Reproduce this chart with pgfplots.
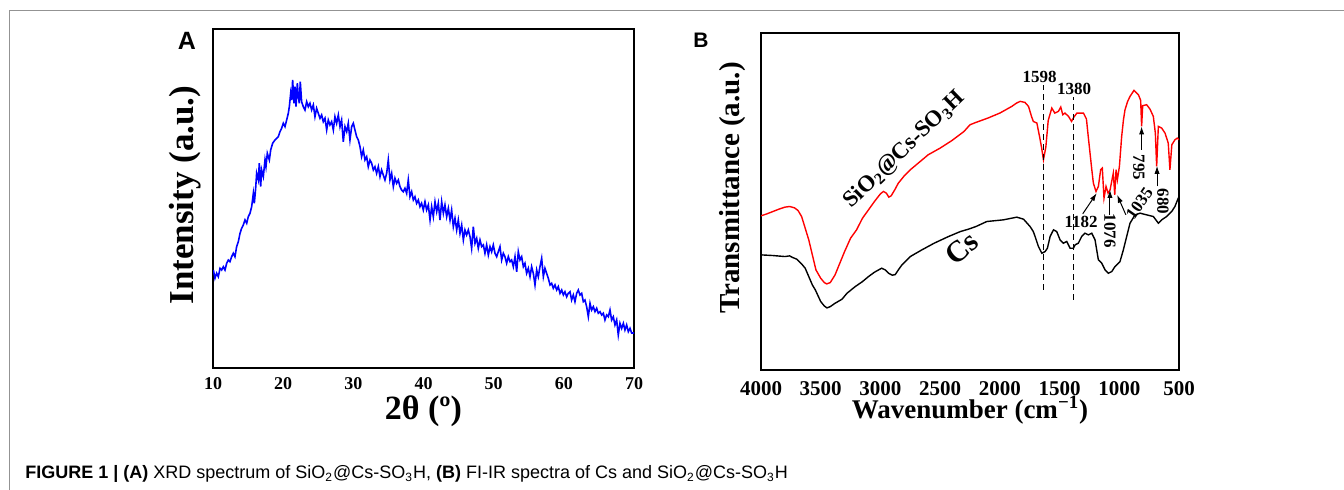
\documentclass[border=0pt]{standalone}
\usepackage{fontspec}
\setmainfont{Liberation Serif}
\newfontfamily\capfont{Liberation Sans}
\usepackage{pgfplots}
\pgfplotsset{compat=1.18}
\usetikzlibrary{arrows.meta}

\pgfplotsset{
  panel/.style={
    scale only axis, anchor=south west,
    axis line style={line width=1.1pt},
    ytick=\empty,
    major tick length=0pt,
    /pgf/number format/assume math mode=true,
    /pgf/number format/set thousands separator={},
  },
}
\newcommand{\ann}{\fontsize{8.5}{8.5}\selectfont\bfseries}

\begin{document}
\begin{tikzpicture}
\useasboundingbox (0,0) rectangle (672pt,245pt);
\draw[gray!85, line width=0.7pt] (4.75pt,0) -- (4.75pt,239.75pt) -- (672pt,239.75pt);

% (A) XRD
\begin{axis}[panel, at={(106.5pt,61pt)}, width=210.5pt, height=169.5pt,
  xmin=10, xmax=70, ymin=0, ymax=339, xtick={10,20,...,70},
  xticklabel style={font=\fontsize{9}{9}\selectfont\bfseries, anchor=center, yshift=-8pt},
  xlabel={2θ (º)},
  xlabel style={font=\fontsize{17}{17}\selectfont\bfseries, at={(axis description cs:0.5,-0.128)}, anchor=center},
  ylabel={Intensity (a.u.)},
  ylabel style={font=\fontsize{17.5}{17.5}\selectfont\bfseries, at={(axis description cs:-0.0665,0.51)}, anchor=center},
]
\addplot[blue, line width=0.8pt] coordinates {
(10.05,98) (10.28,89.7) (10.52,94.7) (10.76,91.3) (11.00,99.7) (11.23,98) (11.47,101.3) (11.71,98) (11.95,104.7) (12.18,108)
(12.42,106.3) (12.66,111.3) (12.90,114.7) (13.13,111.3) (13.37,121.3) (13.61,126.3) (13.85,134.7) (14.08,139.7) (14.32,143) (14.56,148)
(14.80,144.7) (15.03,151.3) (15.27,154.7) (15.51,161.3) (15.75,174.7) (15.89,164.7) (16.08,179.7) (16.22,194.7) (16.46,188) (16.60,204.7)
(16.79,181.3) (16.93,198) (17.17,191.3) (17.41,208) (17.55,201.3) (17.74,214.7) (18.03,208) (18.22,218) (18.50,224.7) (18.83,228)
(19.31,231.3) (19.55,236.3) (19.78,239.7) (20.02,244.7) (20.26,241.3) (20.50,248) (20.73,254.7) (20.88,261.3) (21.07,274.7) (21.21,268)
(21.35,288) (21.54,264.7) (21.68,281.3) (21.83,261.3) (22.02,284.7) (22.16,271.3) (22.30,264.7) (22.44,286.3) (22.63,266.3) (22.87,261.3)
(23.11,258) (23.35,266.3) (23.58,261.3) (23.82,264.7) (24.06,258) (24.30,263) (24.53,251.3) (24.77,259.7) (25.01,254.7) (25.25,249.7)
(25.48,253) (25.72,246.3) (25.96,249.7) (26.20,238) (26.43,248) (26.67,243) (26.91,246.3) (27.15,238) (27.38,251.3) (27.62,244.7)
(27.86,253) (28.10,241.3) (28.33,248) (28.57,226.3) (28.81,241.3) (29.05,236.3) (29.28,244.7) (29.52,228) (29.76,241.3) (30.00,244.7)
(30.23,238) (30.47,231.3) (30.71,228) (30.95,221.3) (31.18,211.3) (31.42,218) (31.66,208) (31.90,211.3) (32.13,201.3) (32.37,208)
(32.61,204.7) (32.85,198) (33.08,201.3) (33.32,194.7) (33.56,201.3) (33.80,191.3) (34.03,198) (34.27,193) (34.51,188) (34.75,194.7)
(34.98,208) (35.22,188) (35.46,194.7) (35.70,181.3) (35.93,189.7) (36.17,184.7) (36.41,188) (36.65,181.3) (36.88,178) (37.12,176.3)
(37.36,179.7) (37.60,174.7) (37.83,188) (38.07,171.3) (38.31,176.3) (38.55,168) (38.78,171.3) (39.02,164.7) (39.26,168) (39.50,161.3)
(39.73,164.7) (39.97,158)
(40.21,166.3) (40.45,158) (40.69,163) (40.93,148) (41.16,161.3) (41.40,151.3) (41.64,166.3) (41.88,156.3) (42.11,164.7) (42.35,148)
(42.59,166.3) (42.83,154.7) (43.06,163) (43.30,151.3) (43.54,159.7) (43.78,148) (44.01,158) (44.25,141.3) (44.49,149.7) (44.73,138)
(44.96,148) (45.20,134.7) (45.44,143) (45.68,128) (45.91,138) (46.15,133) (46.39,138) (46.63,131.3) (46.86,119.7) (47.10,141.3)
(47.34,124.7) (47.58,129.7) (47.81,119.7) (48.05,128) (48.29,121.3) (48.53,123) (48.76,114.7) (49.00,123) (49.24,113) (49.48,121.3)
(49.71,116.3) (49.95,123) (50.19,114.7) (50.43,111.3) (50.66,116.3) (50.90,121.3) (51.14,108) (51.38,114.7) (51.61,111.3) (51.85,104.7)
(52.09,111.3) (52.33,106.3) (52.56,108) (52.80,101.3) (53.04,111.3) (53.28,96.3) (53.51,116.3) (53.75,108) (53.99,111.3) (54.23,101.3)
(54.46,104.7) (54.70,94.7) (54.94,99.7) (55.18,91.3) (55.41,101.3) (55.65,94.7) (55.89,83) (56.13,98) (56.36,91.3) (56.60,101.3)
(56.84,109.7) (57.08,91.3) (57.31,99.7) (57.55,94.7) (57.79,89.7) (58.03,83) (58.26,84.7) (58.50,79.7) (58.74,83) (58.98,78)
(59.21,81.3) (59.45,74.7) (59.69,78) (59.93,73) (60.16,76.3) (60.40,71.3) (60.64,74.7) (60.88,76.3) (61.11,68) (61.35,73)
(61.59,66.3) (61.83,74.7) (62.06,78) (62.30,73) (62.54,74.7) (62.78,66.3) (63.01,68) (63.25,61.3) (63.49,51.3) (63.73,64.7)
(63.96,58) (64.20,61.3) (64.44,56.3) (64.68,59.7) (64.91,54.7) (65.15,56.3) (65.39,53) (65.63,54.7) (65.86,48) (66.10,53)
(66.34,51.3) (66.58,58) (66.81,48) (67.05,51.3) (67.29,43) (67.53,48) (67.76,33) (68.00,44.7) (68.24,39.7) (68.48,44.7)
(68.71,38) (68.95,43) (69.19,36.3) (69.43,39.7) (69.66,35) (70.00,35)
};
\end{axis}
\node[font={\capfont\fontsize{12.5}{12.5}\selectfont\bfseries}] at (93.5pt,224.5pt) {A};

% (B) FT-IR
\begin{axis}[panel, at={(380.5pt,60pt)}, width=209pt, height=168.5pt,
  xmin=500, xmax=4000, x dir=reverse, ymin=0, ymax=1010,
  xtick={500,1000,...,4000},
  xticklabel style={font=\fontsize{10.5}{10.5}\selectfont\bfseries, anchor=center, yshift=-9.5pt},
  xlabel={Wavenumber (cm\textsuperscript{−1})},
  xlabel style={font=\fontsize{13.5}{13.5}\selectfont\bfseries, at={(axis description cs:0.5,-0.119)}, anchor=center},
  ylabel={Transmittance (a.u.)},
  ylabel style={font=\fontsize{14.5}{14.5}\selectfont\bfseries, at={(axis description cs:-0.067,0.54)}, anchor=center},
]
% SiO2@Cs-SO3H
\addplot[red, line width=0.7pt] coordinates {
(4000,462) (3950,468) (3900,475) (3850,482) (3800,488) (3760,490) (3720,486) (3690,478) (3660,460) (3630,425)
(3600,390) (3570,345) (3540,300) (3500,275) (3470,262) (3450,258) (3420,262) (3380,285) (3340,320) (3300,355)
(3250,395) (3200,420) (3150,455) (3100,480) (3050,505) (3000,528) (2975,535) (2950,530) (2930,518) (2910,522)
(2880,540) (2850,560) (2800,582) (2750,600) (2700,615) (2650,630) (2600,645) (2500,665) (2400,688) (2300,715)
(2250,735) (2200,742) (2100,755) (2000,770) (1950,780) (1900,790) (1860,800) (1830,805) (1790,802) (1760,790)
(1735,760) (1720,745) (1690,740) (1665,695) (1650,665) (1635,630) (1615,668) (1595,748) (1565,785) (1540,770)
(1510,775) (1490,788) (1473,765) (1455,770) (1425,760) (1400,745) (1380,758) (1355,770) (1300,770) (1275,752)
(1260,700) (1245,650) (1230,600) (1217,560) (1195,535) (1175,550) (1156,600) (1142,605) (1128,515) (1111,550)
(1094,530) (1077,540) (1061,570) (1050,590) (1038,525) (1027,600) (1016,570) (999,610) (980,700) (965,750)
(952,780) (930,805) (910,820) (877,838) (840,825) (821,808) (813,730) (804,792) (771,795) (743,782)
(715,760) (698,710) (687,610) (673,730) (645,725) (617,710) (590,680) (576,600) (560,675) (534,690)
(514,695) (500,690)
};
% Cs
\addplot[black, line width=0.7pt] coordinates {
(4000,345) (3900,343) (3800,340) (3760,342) (3740,338) (3700,332) (3660,318) (3630,305) (3600,280) (3570,255)
(3545,240) (3500,205) (3470,192) (3448,186) (3420,190) (3380,200) (3322,212) (3280,230) (3211,250) (3150,265)
(3100,280) (3050,293) (2990,305) (2960,300) (2932,290) (2900,284) (2876,286) (2850,300) (2820,315) (2750,340)
(2653,360) (2550,380) (2430,400) (2330,415) (2263,422) (2200,430) (2109,445) (1970,450) (1858,458) (1802,452)
(1747,430) (1720,415) (1705,400) (1677,370) (1649,350) (1621,355) (1602,365) (1579,400) (1551,420) (1524,415)
(1496,390) (1468,380) (1440,385) (1412,365) (1384,365) (1370,375) (1343,380) (1315,400) (1287,410) (1259,405)
(1231,410) (1203,390) (1175,330) (1147,320) (1119,300) (1091,290) (1063,295) (1036,310) (994,325) (966,360)
(938,400) (910,440) (868,465) (826,470) (771,465) (715,460) (673,440) (645,450) (603,460) (561,475)
(534,490) (506,515) (500,518)
};
\draw[line width=0.6pt, dash pattern=on 3pt off 2pt] (axis cs:1637,240) -- (axis cs:1637,855);
\draw[line width=0.6pt, dash pattern=on 3pt off 2pt] (axis cs:1382,210) -- (axis cs:1382,819);
\node[font=\ann] at (axis cs:1668,877) {1598};
\node[font=\ann] at (axis cs:1379,843) {1380};
\draw[line width=0.5pt, -{Latex[length=4pt,width=2.6pt]}] (axis cs:1306,468) -- (axis cs:1189,530);
\node[font=\ann] at (axis cs:1320,445) {1182};
\draw[line width=0.5pt, -{Latex[length=4pt,width=2.6pt]}] (axis cs:1078,465) -- (axis cs:1078,540);
\node[font=\ann, rotate=-90] at (axis cs:1078,418) {1076};
\draw[line width=0.5pt, -{Latex[length=4pt,width=2.6pt]}] (axis cs:945,465) -- (axis cs:1018,525);
\node[font=\ann, rotate=55] at (axis cs:832,500) {1035};
\draw[line width=0.5pt, -{Latex[length=4pt,width=2.6pt]}] (axis cs:813,660) -- (axis cs:813,730);
\node[font=\ann, rotate=-90] at (axis cs:836,607) {795};
\draw[line width=0.5pt, -{Latex[length=4pt,width=2.6pt]}] (axis cs:684,550) -- (axis cs:684,612);
\node[font=\ann, rotate=-90] at (axis cs:635,505) {680};
\node[font=\fontsize{11.5}{11.5}\selectfont\bfseries, rotate=44] at (axis cs:2801,660) {SiO\textsubscript{2}@Cs-SO\textsubscript{3}H};
\node[font=\fontsize{15}{15}\selectfont\bfseries, rotate=40] at (axis cs:2318,365) {Cs};
\end{axis}
\node[font={\capfont\fontsize{10.5}{10.5}\selectfont\bfseries}] at (350.5pt,225pt) {B};

\node[anchor=base west, inner sep=0pt, font={\capfont\fontsize{9}{10}\selectfont}] at (12.5pt,5.5pt)
  {\textbf{FIGURE 1 | (A)} XRD spectrum of SiO\textsubscript{2}@Cs-SO\textsubscript{3}H, \textbf{(B)} FI-IR spectra of Cs and SiO\textsubscript{2}@Cs-SO\textsubscript{3}H};
\end{tikzpicture}
\end{document}
